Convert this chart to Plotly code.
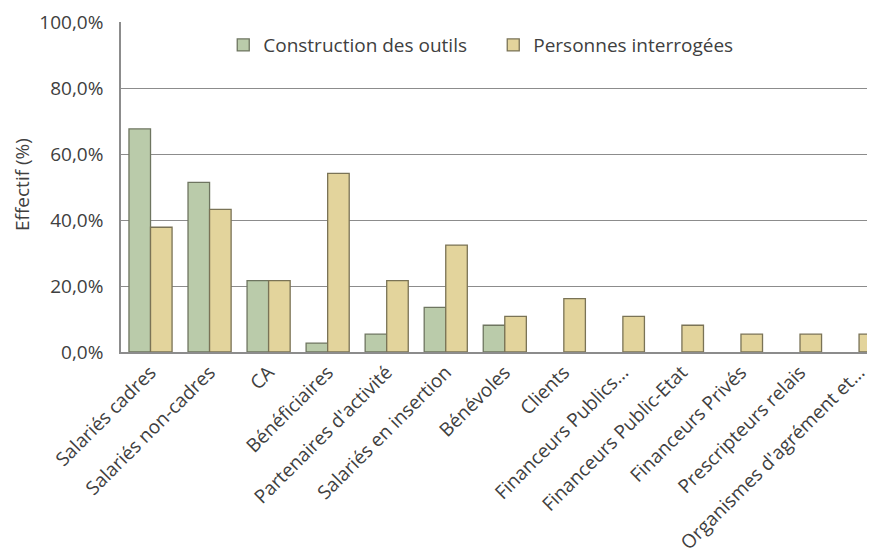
import plotly.graph_objects as go

categories = ["Salariés cadres", "Salariés non-cadres", "CA", "Bénéficiaires",
              "Partenaires d'activité", "Salariés en insertion", "Bénévoles", "Clients",
              "Financeurs Publics...", "Financeurs Public-Etat", "Financeurs Privés",
              "Prescripteurs relais", "Organismes d'agrément et..."]
construction = [67.6, 51.4, 21.6, 2.7, 5.4, 13.5, 8.1, None, None, None, None, None, None]
personnes = [37.8, 43.2, 21.6, 54.1, 21.6, 32.4, 10.8, 16.2, 10.8, 8.1, 5.4, 5.4, 5.4]
y_ticks = [0, 20, 40, 60, 80, 100]
y_tick_labels = ["0,0%", "20,0%", "40,0%", "60,0%", "80,0%", "100,0%"]

FONT = "Open Sans, Liberation Sans, sans-serif"
TXT = "#404040"

fig = go.Figure()
fig.add_bar(x=categories, y=construction, name="Construction des outils",
            marker=dict(color="#BACBAA", line=dict(color="#6E7560", width=1.3)))
fig.add_bar(x=categories, y=personnes, name="Personnes interrogées",
            marker=dict(color="#E3D49C", line=dict(color="#7A7356", width=1.3)))

fig.update_layout(
    width=875, height=560,
    margin=dict(l=113, r=8, t=14, b=216, autoexpand=False),
    paper_bgcolor="white", plot_bgcolor="white",
    barmode="group", bargap=0.27, bargroupgap=0,
    font=dict(family=FONT, size=19, color=TXT),
    legend=dict(orientation="h", x=0.1356, y=0.93, xanchor="left", yanchor="middle",
                font=dict(size=19, color=TXT), bgcolor="rgba(0,0,0,0)",
                itemwidth=30, traceorder="normal", entrywidth=225, entrywidthmode="pixels"),
    showlegend=True,
)
fig.update_xaxes(
    type="category", range=[-0.5, 12.27], tickangle=-45, automargin=False,
    showline=True, linecolor="#8C8C8C", linewidth=1.5, showgrid=False,
    ticks="", tickfont=dict(size=19, color=TXT),
)
fig.update_yaxes(
    range=[0, 100], tickvals=y_ticks, ticktext=y_tick_labels, automargin=False,
    showgrid=True, gridcolor="#8C8C8C", gridwidth=1,
    showline=True, linecolor="#8C8C8C", linewidth=1.5,
    zeroline=False, ticks="", tickfont=dict(size=19, color=TXT),
    ticklabelstandoff=12,
)
fig.add_annotation(
    text="Effectif (%)", textangle=-90, xref="paper", yref="paper",
    x=(22 - 121) / 754, y=(352 - 185) / 330, xanchor="center", yanchor="middle",
    showarrow=False, font=dict(size=19, color=TXT),
)
fig.write_html("out.html")
